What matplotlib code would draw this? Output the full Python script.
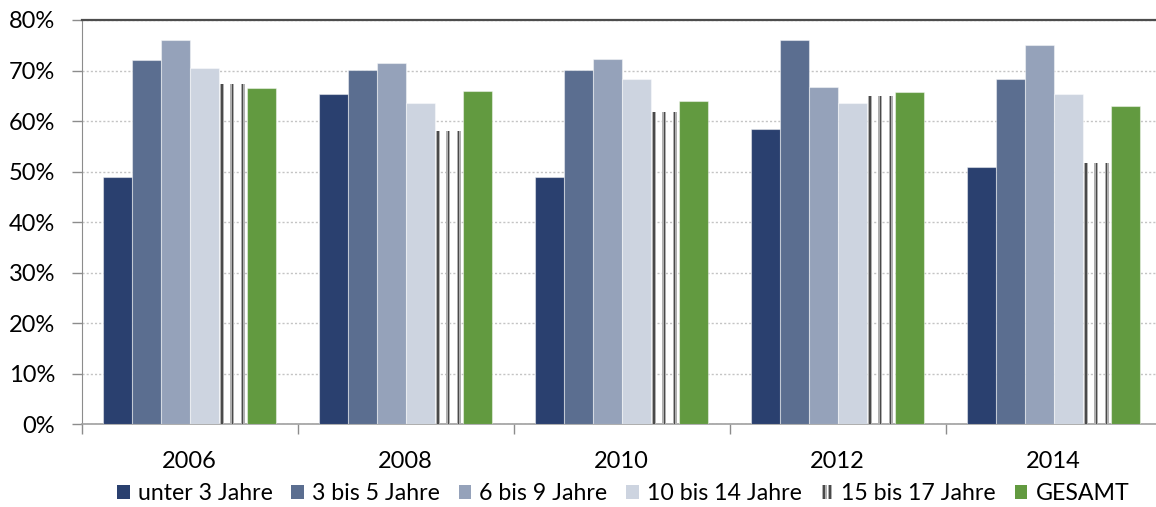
import matplotlib
matplotlib.use("Agg")
import matplotlib.pyplot as plt
import numpy as np
from matplotlib.patches import Rectangle
from matplotlib.legend_handler import HandlerBase
from matplotlib.ticker import FixedLocator, FuncFormatter

years = ["2006", "2008", "2010", "2012", "2014"]
series_names = ["unter 3 Jahre", "3 bis 5 Jahre", "6 bis 9 Jahre",
                "10 bis 14 Jahre", "15 bis 17 Jahre", "GESAMT"]
unter3 = [49.0, 65.3, 49.0, 58.5, 51.0]
bis5 = [72.1, 70.1, 70.1, 76.0, 68.3]
bis9 = [76.0, 71.5, 72.3, 66.8, 75.1]
bis14 = [70.5, 63.5, 68.3, 63.5, 65.3]
bis17 = [67.4, 58.1, 61.8, 65.0, 51.7]
gesamt = [66.5, 66.0, 64.0, 65.8, 63.0]
yticks = [0, 10, 20, 30, 40, 50, 60, 70, 80]

colors = ["#2a406f", "#5b6e90", "#95a2ba", "#cdd4e0", None, "#629a40"]
values = [unter3, bis5, bis9, bis14, bis17, gesamt]

plt.rcParams['font.family'] = ['Lato', 'DejaVu Sans']

fig = plt.figure(figsize=(11.56, 5.07), dpi=100)
ax = fig.add_axes([81.7 / 1156, 82.7 / 507, 1080 / 1156, 404.3 / 507])

x = np.arange(len(years))
w = 1 / 7.5
stripe_offsets = [0.12, 0.48, 0.84]
for j, (vals, c) in enumerate(zip(values, colors)):
    left = x + (j - 3) * w
    if c is not None:
        ax.bar(left, vals, width=w, align="edge", color=c,
               edgecolor=(1, 1, 1, 0.45), linewidth=0.8, zorder=3)
    else:
        for off in stripe_offsets:
            ax.bar(left + off * w, vals, width=0.14 * w, align="center",
                   color="#b0b0b0", linewidth=0, zorder=3)
            ax.bar(left + off * w, vals, width=0.05 * w, align="center",
                   color="#4a4a4a", linewidth=0, zorder=4)

ax.set_xlim(-0.5, 4.5)
ax.set_ylim(0, 80)
ax.set_yticks(yticks)
ax.yaxis.set_major_formatter(FuncFormatter(lambda v, p: f"{int(v)}%"))
ax.set_xticks(x)
ax.set_xticklabels(years)
ax.xaxis.set_minor_locator(FixedLocator(np.arange(-0.5, 5, 1)))
ax.tick_params(axis="x", which="major", length=0, pad=19, labelsize=17)
ax.tick_params(axis="x", which="minor", length=7, width=1, color="#8c8c8c")
ax.tick_params(axis="y", length=7, width=1, color="#8c8c8c", pad=12, labelsize=17)

ax.grid(axis="y", color="#c4c4c4", linestyle=(0, (1.5, 1.5)), linewidth=1, zorder=0)
ax.set_axisbelow(True)
ax.spines["right"].set_visible(False)
ax.spines["top"].set_color("#4d4d4d")
ax.spines["top"].set_linewidth(1.6)
ax.spines["left"].set_color("#8c8c8c")
ax.spines["bottom"].set_color("#a0a0a0")
ax.spines["bottom"].set_linewidth(1.2)


class StripeHandler(HandlerBase):
    def create_artists(self, legend, orig_handle, xdescent, ydescent,
                       width, height, fontsize, trans):
        arts = []
        for f in [0.3, 0.75]:
            arts.append(Rectangle((-xdescent + f * width - 1.6, -ydescent), 3.2, height,
                                  facecolor="#b0b0b0", edgecolor="none", transform=trans))
            arts.append(Rectangle((-xdescent + f * width - 0.6, -ydescent), 1.2, height,
                                  facecolor="#4a4a4a", edgecolor="none", transform=trans))
        return arts


class StripeKey:
    pass


handles = []
for c in colors:
    if c is None:
        handles.append(StripeKey())
    else:
        handles.append(Rectangle((0, 0), 1, 1, facecolor=c, edgecolor="none"))

fig.legend(handles, series_names, loc="center", bbox_to_anchor=(0.539, 0.027),
           ncol=6, frameon=False, fontsize=16.7, handlelength=0.55, handleheight=0.55,
           handletextpad=0.35, columnspacing=0.8,
           handler_map={StripeKey: StripeHandler()})

fig.savefig("out.png", dpi=100)
